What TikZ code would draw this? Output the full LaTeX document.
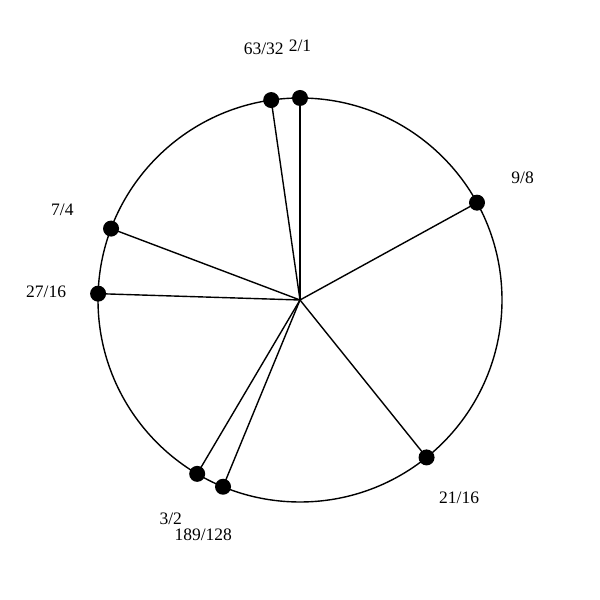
\documentclass[tikz,border=0pt]{standalone}
\usepackage{fontspec}
\setmainfont{Liberation Serif}
\usetikzlibrary{calc}
\begin{document}
\begin{tikzpicture}[x=1pt,y=1pt,
  dot/.style={circle,fill=black,inner sep=0pt,minimum size=16pt},
  lbl/.style={font=\fontsize{17.5}{20}\selectfont,inner sep=0pt},
  spoke/.style={line width=1.4pt}]
\useasboundingbox (0,0) rectangle (600,600);
\coordinate (c) at (300,300);
\draw[line width=1.4pt] (c) circle (202);
\foreach \n/\a/\t in {p1/90/2\slash 1, p2/98.2/63\slash 32, p3/28.8/9\slash 8, p4/159.3/7\slash 4, p5/178.2/27\slash 16, p6/-120.6/3\slash 2, p7/-112.4/189\slash 128, p8/-51.2/21\slash 16}{
  \node[dot] (\n) at ($(c)+(\a:202)$) {};
  \draw[spoke] (c) -- (\n.center);
  \node[lbl] (l\n) at ($(c)+(\a:254)$) {\t};
}
\end{tikzpicture}
\end{document}
